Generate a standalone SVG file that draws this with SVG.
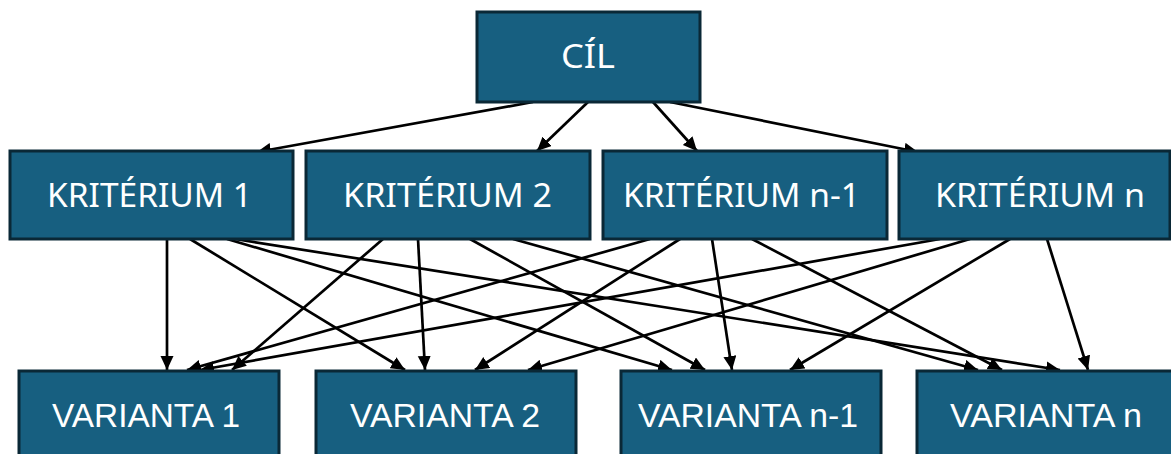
<svg xmlns="http://www.w3.org/2000/svg" width="1171" height="454" viewBox="0 0 1171 454">
  <style>
    .box { fill: #175f80; stroke: #0a2836; stroke-width: 3; }
    .lbl { fill: #ffffff; font-family: "Noto Sans", "Open Sans", sans-serif; font-size: 33px; text-anchor: middle; }
    .var { fill: #ffffff; font-family: "Liberation Sans", Arial, sans-serif; font-size: 34px; text-anchor: middle; }
    .edge { stroke: #000000; stroke-width: 2.7; fill: none; marker-end: url(#arrow); }
  </style>
  <defs>
    <marker id="arrow" markerUnits="userSpaceOnUse" markerWidth="16" markerHeight="14" refX="14" refY="6.5" orient="auto">
      <path d="M0,0 L14,6.5 L0,13 Z" fill="#000000"/>
    </marker>
  </defs>

  <rect width="1171" height="454" fill="#ffffff"/>

  <!-- connectors -->
  <g id="connectors">
    <line class="edge" x1="533" y1="102" x2="257" y2="152"/>
    <line class="edge" x1="588" y1="102" x2="537" y2="151"/>
    <line class="edge" x1="653" y1="102" x2="697" y2="151"/>
    <line class="edge" x1="670" y1="102" x2="918" y2="152"/>

    <line class="edge" x1="167" y1="239" x2="167" y2="370"/>
    <line class="edge" x1="190" y1="239" x2="405" y2="370"/>
    <line class="edge" x1="227" y1="239" x2="672" y2="370"/>
    <line class="edge" x1="235" y1="239" x2="1060" y2="370"/>

    <line class="edge" x1="383" y1="239" x2="232" y2="370"/>
    <line class="edge" x1="418" y1="239" x2="425" y2="370"/>
    <line class="edge" x1="470" y1="239" x2="705" y2="370"/>
    <line class="edge" x1="513" y1="239" x2="978" y2="370"/>

    <line class="edge" x1="650" y1="239" x2="187" y2="370"/>
    <line class="edge" x1="680" y1="239" x2="475" y2="370"/>
    <line class="edge" x1="712" y1="239" x2="732" y2="370"/>
    <line class="edge" x1="752" y1="239" x2="1002" y2="370"/>

    <line class="edge" x1="940" y1="239" x2="200" y2="370"/>
    <line class="edge" x1="970" y1="239" x2="528" y2="370"/>
    <line class="edge" x1="1010" y1="239" x2="790" y2="370"/>
    <line class="edge" x1="1047" y1="239" x2="1088" y2="370"/>
  </g>

  <!-- goal -->
  <g id="cil">
    <rect class="box" x="477" y="12" width="223" height="90"/>
    <text class="lbl" x="588" y="68" font-size="36" textLength="54" lengthAdjust="spacingAndGlyphs">CÍL</text>
  </g>

  <!-- criteria -->
  <g id="kriterium-1">
    <rect class="box" x="10" y="151" width="283" height="88"/>
    <text class="lbl" x="149.5" y="207" textLength="205" lengthAdjust="spacingAndGlyphs">KRITÉRIUM 1</text>
  </g>
  <g id="kriterium-2">
    <rect class="box" x="306" y="151" width="284" height="88"/>
    <text class="lbl" x="447.5" y="207" textLength="209" lengthAdjust="spacingAndGlyphs">KRITÉRIUM 2</text>
  </g>
  <g id="kriterium-n-1">
    <rect class="box" x="603" y="151" width="284" height="88"/>
    <text class="lbl" x="741.5" y="207" textLength="237" lengthAdjust="spacingAndGlyphs">KRITÉRIUM n-1</text>
  </g>
  <g id="kriterium-n">
    <rect class="box" x="899" y="151" width="271" height="88"/>
    <text class="lbl" x="1040" y="207" textLength="210" lengthAdjust="spacingAndGlyphs">KRITÉRIUM n</text>
  </g>

  <!-- alternatives -->
  <g id="varianta-1">
    <rect class="box" x="19" y="371" width="260" height="100"/>
    <text class="var" x="146" y="427" textLength="188" lengthAdjust="spacingAndGlyphs">VARIANTA 1</text>
  </g>
  <g id="varianta-2">
    <rect class="box" x="316" y="371" width="260" height="100"/>
    <text class="var" x="445" y="427" textLength="190" lengthAdjust="spacingAndGlyphs">VARIANTA 2</text>
  </g>
  <g id="varianta-n-1">
    <rect class="box" x="621" y="371" width="260" height="100"/>
    <text class="var" x="748" y="427" textLength="220" lengthAdjust="spacingAndGlyphs">VARIANTA n-1</text>
  </g>
  <g id="varianta-n">
    <rect class="box" x="917" y="371" width="256" height="100"/>
    <text class="var" x="1046" y="427" textLength="192" lengthAdjust="spacingAndGlyphs">VARIANTA n</text>
  </g>
</svg>
